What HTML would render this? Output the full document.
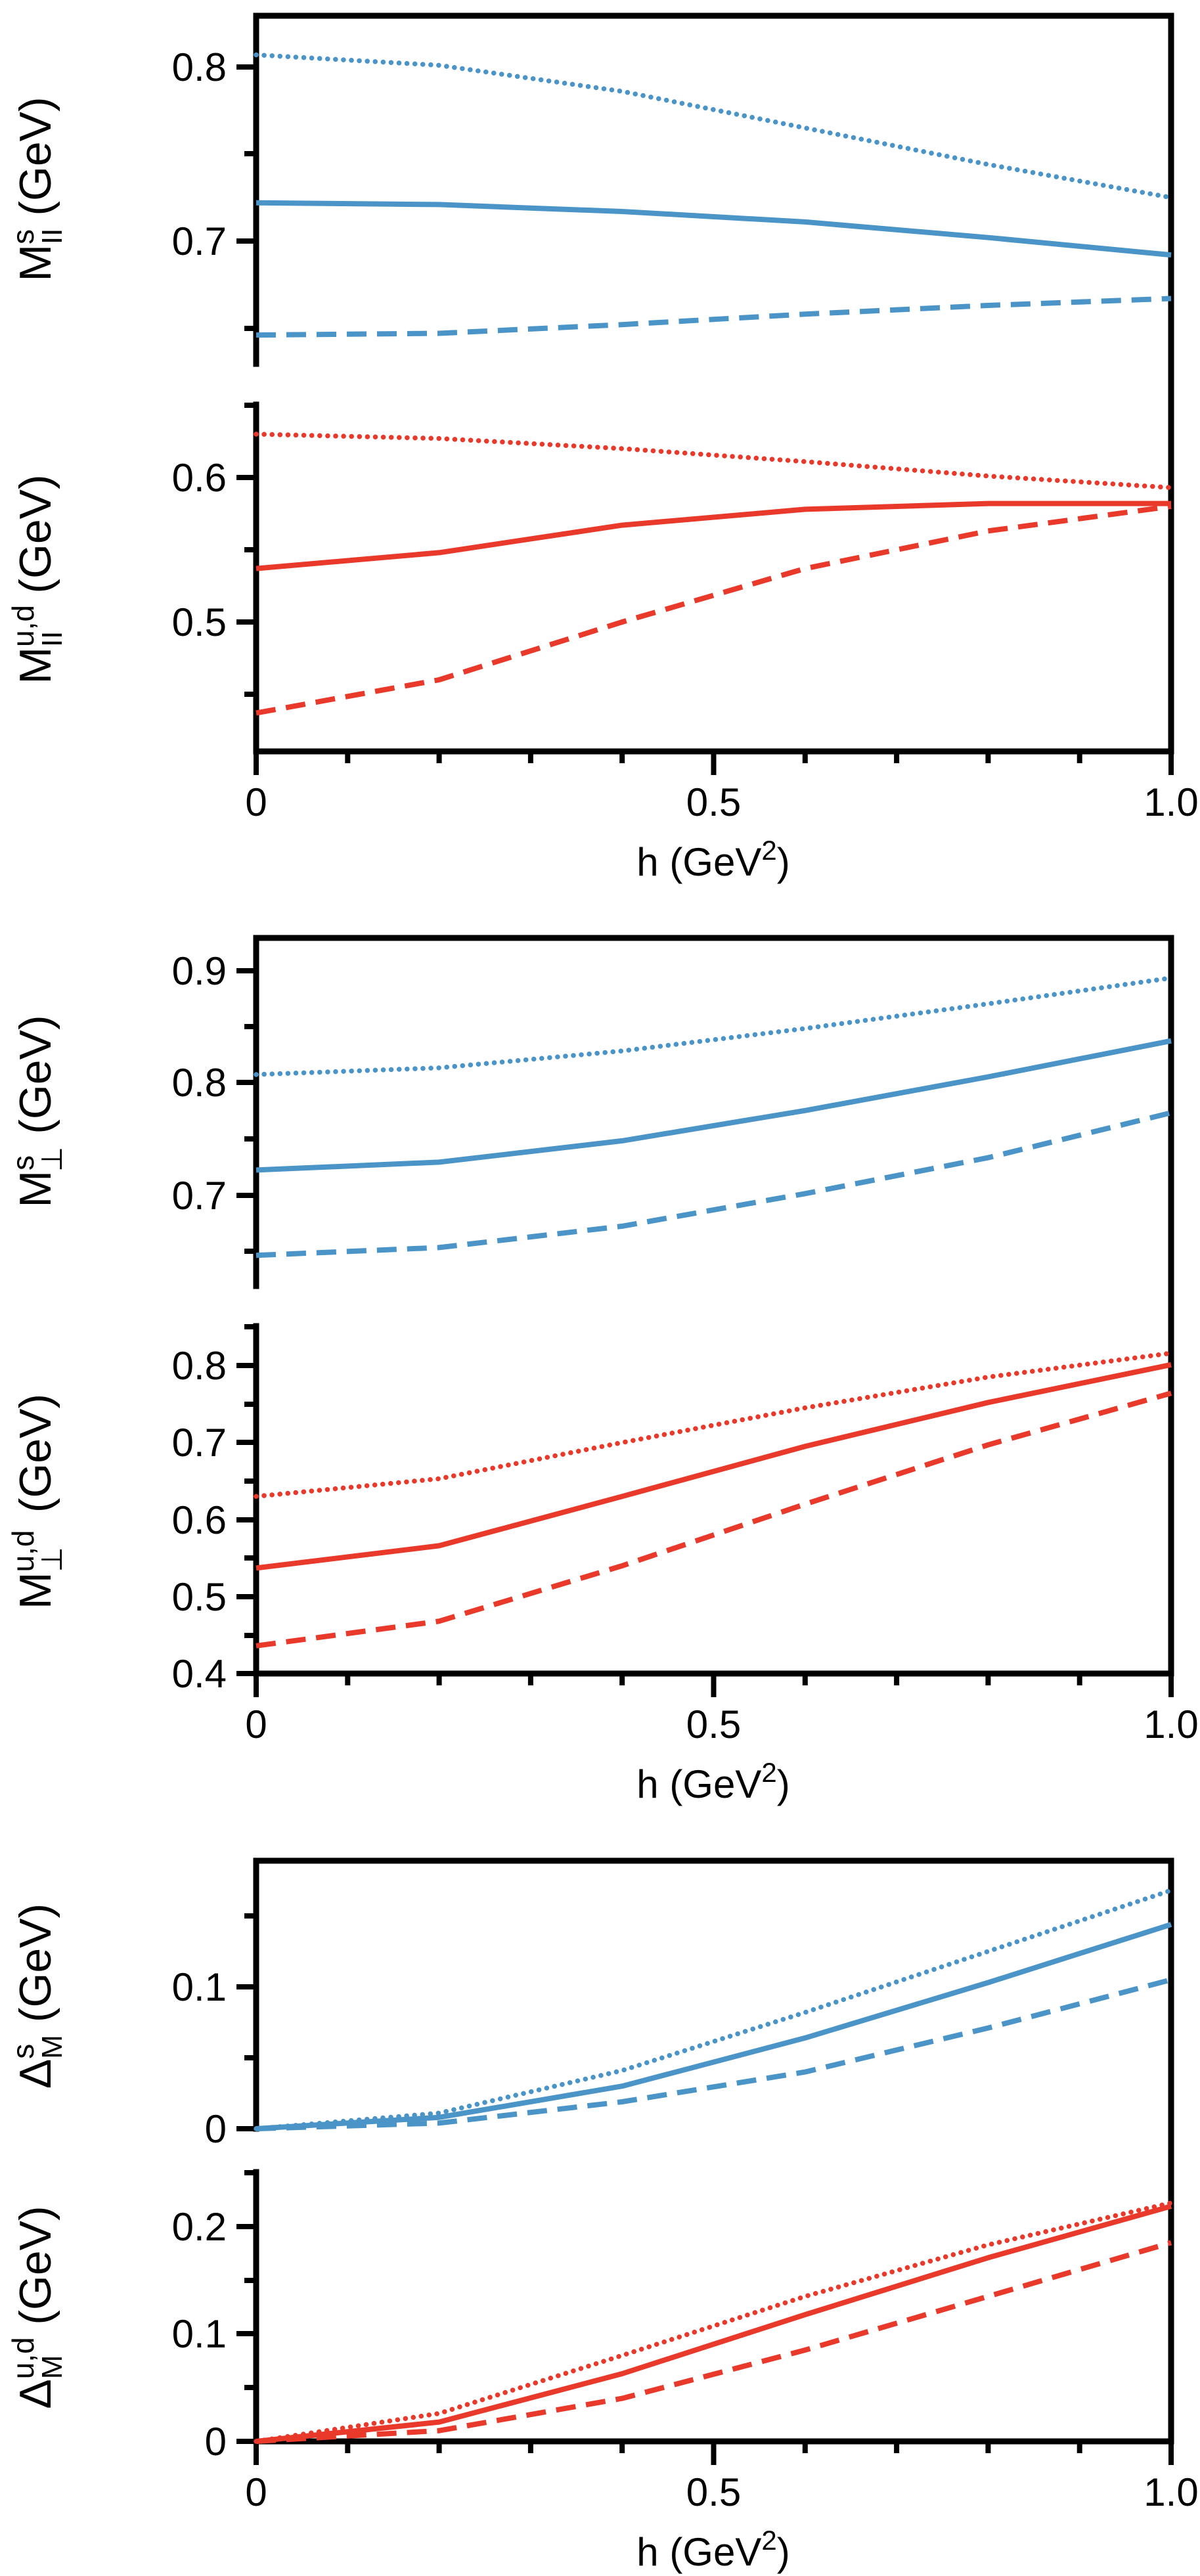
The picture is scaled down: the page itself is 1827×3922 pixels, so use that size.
<!DOCTYPE html>
<html><head><meta charset="utf-8"><style>
html,body{margin:0;padding:0;background:#fff;}
svg{display:block;font-family:"Liberation Sans","DejaVu Sans",sans-serif;}
.ax{stroke:#000;stroke-width:9;fill:none;stroke-linecap:square}
.tk{stroke:#000;stroke-width:8;fill:none}
.b{stroke:#4a94c8;fill:none;stroke-width:8;stroke-linejoin:round}
.r{stroke:#e8392a;fill:none;stroke-width:8;stroke-linejoin:round}
.dot{stroke-dasharray:0.1 12;stroke-linecap:round;stroke-width:7.5}
.dash{stroke-dasharray:30 16}
.tl{font-size:60px;text-anchor:end}
.xl{font-size:60px;text-anchor:middle}
.lab{font-size:68px;text-anchor:middle}
</style></head><body>
<svg width="1827" height="3922" viewBox="0 0 1827 3922" xmlns="http://www.w3.org/2000/svg">
<!-- ===== Block 1 ===== -->
<path class="ax" d="M390 554 L390 24 L1783 24 L1783 1144 L390 1144 L390 616"/>
<path class="tk" d="M360 102H390M360 367H390M372 234H390M372 500H390"/>
<text class="tl" x="345" y="123">0.8</text>
<text class="tl" x="345" y="388">0.7</text>
<path class="tk" d="M360 727H390M360 947H390M372 837H390M372 1057H390M372 617H390"/>
<text class="tl" x="345" y="748">0.6</text>
<text class="tl" x="345" y="968">0.5</text>
<path class="tk" d="M390 1144V1180M1086.5 1144V1180M1783 1144V1180M529.3 1144V1162M668.6 1144V1162M807.9 1144V1162M947.2 1144V1162M1225.8 1144V1162M1365.1 1144V1162M1504.4 1144V1162M1643.7 1144V1162"/>
<text class="xl" x="390" y="1242">0</text>
<text class="xl" x="1086.5" y="1242">0.5</text>
<text class="xl" x="1783" y="1242">1.0</text>
<text class="xl" x="1086" y="1333">h (GeV<tspan dy="-24" font-size="42">2</tspan><tspan dy="24">)</tspan></text>
<polyline class="b dot" points="390,83.5 668.6,99.4 947.2,139.1 1225.8,194.8 1504.4,250.4 1783,300.8"/>
<polyline class="b" points="390,308.7 668.6,311.4 947.2,322 1225.8,337.9 1504.4,361.7 1783,388.2"/>
<polyline class="b dash" points="390,510.1 668.6,507.5 947.2,494.2 1225.8,478.3 1504.4,465 1783,454.5"/>
<polyline class="r dot" points="390,661 668.6,667.6 947.2,683 1225.8,702.8 1504.4,724.8 1783,742.4"/>
<polyline class="r" points="390,865.6 668.6,841.4 947.2,799.6 1225.8,775.4 1504.4,766.6 1783,766.6"/>
<polyline class="r dash" points="390,1085.6 668.6,1035 947.2,947 1225.8,865.6 1504.4,808.4 1783,771"/>
<text class="lab" transform="rotate(-90 53 288)" x="53" y="312">M<tspan dy="-26" font-size="46">s</tspan><tspan dx="-23" dy="43" font-size="44">II</tspan><tspan dy="-17"> (GeV)</tspan></text>
<text class="lab" transform="rotate(-90 53 882)" x="53" y="906">M<tspan dy="-26" font-size="46">u,d</tspan><tspan dx="-64" dy="43" font-size="44">II</tspan><tspan dx="38" dy="-17"> (GeV)</tspan></text>

<!-- ===== Block 2 ===== -->
<path class="ax" d="M390 1958 L390 1428 L1783 1428 L1783 2548 L390 2548 L390 2019"/>
<path class="tk" d="M360 1478H390M360 1648H390M360 1820H390M372 1563H390M372 1734H390M372 1905H390"/>
<text class="tl" x="345" y="1499">0.9</text>
<text class="tl" x="345" y="1669">0.8</text>
<text class="tl" x="345" y="1841">0.7</text>
<path class="tk" d="M360 2079H390M360 2196H390M360 2314H390M360 2431H390M360 2548H390M372 2020H390M372 2138H390M372 2255H390M372 2372H390M372 2490H390"/>
<text class="tl" x="345" y="2100">0.8</text>
<text class="tl" x="345" y="2217">0.7</text>
<text class="tl" x="345" y="2335">0.6</text>
<text class="tl" x="345" y="2452">0.5</text>
<text class="tl" x="345" y="2569">0.4</text>
<path class="tk" d="M390 2548V2584M1086.5 2548V2584M1783 2548V2584M529.3 2548V2566M668.6 2548V2566M807.9 2548V2566M947.2 2548V2566M1225.8 2548V2566M1365.1 2548V2566M1504.4 2548V2566M1643.7 2548V2566"/>
<text class="xl" x="390" y="2646">0</text>
<text class="xl" x="1086.5" y="2646">0.5</text>
<text class="xl" x="1783" y="2646">1.0</text>
<text class="xl" x="1086" y="2737">h (GeV<tspan dy="-24" font-size="42">2</tspan><tspan dy="24">)</tspan></text>
<polyline class="b dot" points="390,1636 668.6,1625.8 947.2,1600.1 1225.8,1565.9 1504.4,1528.3 1783,1489"/>
<polyline class="b" points="390,1781.4 668.6,1769.4 947.2,1736.9 1225.8,1690.8 1504.4,1639.5 1783,1584.7"/>
<polyline class="b dash" points="390,1911.3 668.6,1899.4 947.2,1866.9 1225.8,1817.3 1504.4,1762.6 1783,1694.2"/>
<polyline class="r dot" points="390,2278.3 668.6,2251.4 947.2,2196.3 1225.8,2143.5 1504.4,2096.6 1783,2060.2"/>
<polyline class="r" points="390,2387.4 668.6,2353.4 947.2,2278.3 1225.8,2202.1 1504.4,2135.3 1783,2077.8"/>
<polyline class="r dash" points="390,2505.8 668.6,2468.3 947.2,2383.9 1225.8,2290.1 1504.4,2199.8 1783,2121.2"/>
<text class="lab" transform="rotate(-90 53 1692)" x="53" y="1716">M<tspan dy="-26" font-size="46">s</tspan><tspan dx="-25" dy="43" font-size="44">⊥</tspan><tspan dy="-17"> (GeV)</tspan></text>
<text class="lab" transform="rotate(-90 53 2286)" x="53" y="2310">M<tspan dy="-26" font-size="46">u,d</tspan><tspan dx="-64" dy="43" font-size="44">⊥</tspan><tspan dx="33" dy="-17"> (GeV)</tspan></text>

<!-- ===== Block 3 ===== -->
<path class="ax" d="M390 3241 L390 2833 L1783 2833 L1783 3717 L390 3717 L390 3307"/>
<path class="tk" d="M360 3241H390M360 3025H390M372 3133H390M372 2917H390"/>
<text class="tl" x="345" y="3262">0</text>
<text class="tl" x="345" y="3046">0.1</text>
<path class="tk" d="M360 3717H390M360 3553H390M360 3390H390M372 3635H390M372 3472H390M372 3308H390"/>
<text class="tl" x="345" y="3738">0</text>
<text class="tl" x="345" y="3574">0.1</text>
<text class="tl" x="345" y="3411">0.2</text>
<path class="tk" d="M390 3717V3753M1086.5 3717V3753M1783 3717V3753M529.3 3717V3735M668.6 3717V3735M807.9 3717V3735M947.2 3717V3735M1225.8 3717V3735M1365.1 3717V3735M1504.4 3717V3735M1643.7 3717V3735"/>
<text class="xl" x="390" y="3815">0</text>
<text class="xl" x="1086.5" y="3815">0.5</text>
<text class="xl" x="1783" y="3815">1.0</text>
<text class="xl" x="1086" y="3906">h (GeV<tspan dy="-24" font-size="42">2</tspan><tspan dy="24">)</tspan></text>
<polyline class="b dot" points="390,3241 668.6,3217.2 947.2,3152.4 1225.8,3063.9 1504.4,2971 1783,2878.1"/>
<polyline class="b" points="390,3241 668.6,3223.7 947.2,3176.2 1225.8,3102.8 1504.4,3018.5 1783,2930"/>
<polyline class="b dash" points="390,3241 668.6,3232.4 947.2,3200 1225.8,3154.6 1504.4,3087.6 1783,3014.2"/>
<polyline class="r dot" points="390,3717 668.6,3674.5 947.2,3586.2 1225.8,3496.3 1504.4,3417.8 1783,3354"/>
<polyline class="r" points="390,3717 668.6,3687.6 947.2,3614 1225.8,3524.1 1504.4,3437.4 1783,3359"/>
<polyline class="r dash" points="390,3717 668.6,3700.7 947.2,3651.6 1225.8,3578 1504.4,3496.3 1783,3414.5"/>
<text class="lab" transform="rotate(-90 53 3039)" x="53" y="3063">Δ<tspan dy="-26" font-size="46">s</tspan><tspan dx="-23" dy="43" font-size="44">M</tspan><tspan dy="-17"> (GeV)</tspan></text>
<text class="lab" transform="rotate(-90 53 3513)" x="53" y="3537">Δ<tspan dy="-26" font-size="46">u,d</tspan><tspan dx="-64" dy="43" font-size="44">M</tspan><tspan dx="27" dy="-17"> (GeV)</tspan></text>
</svg>
</body></html>
